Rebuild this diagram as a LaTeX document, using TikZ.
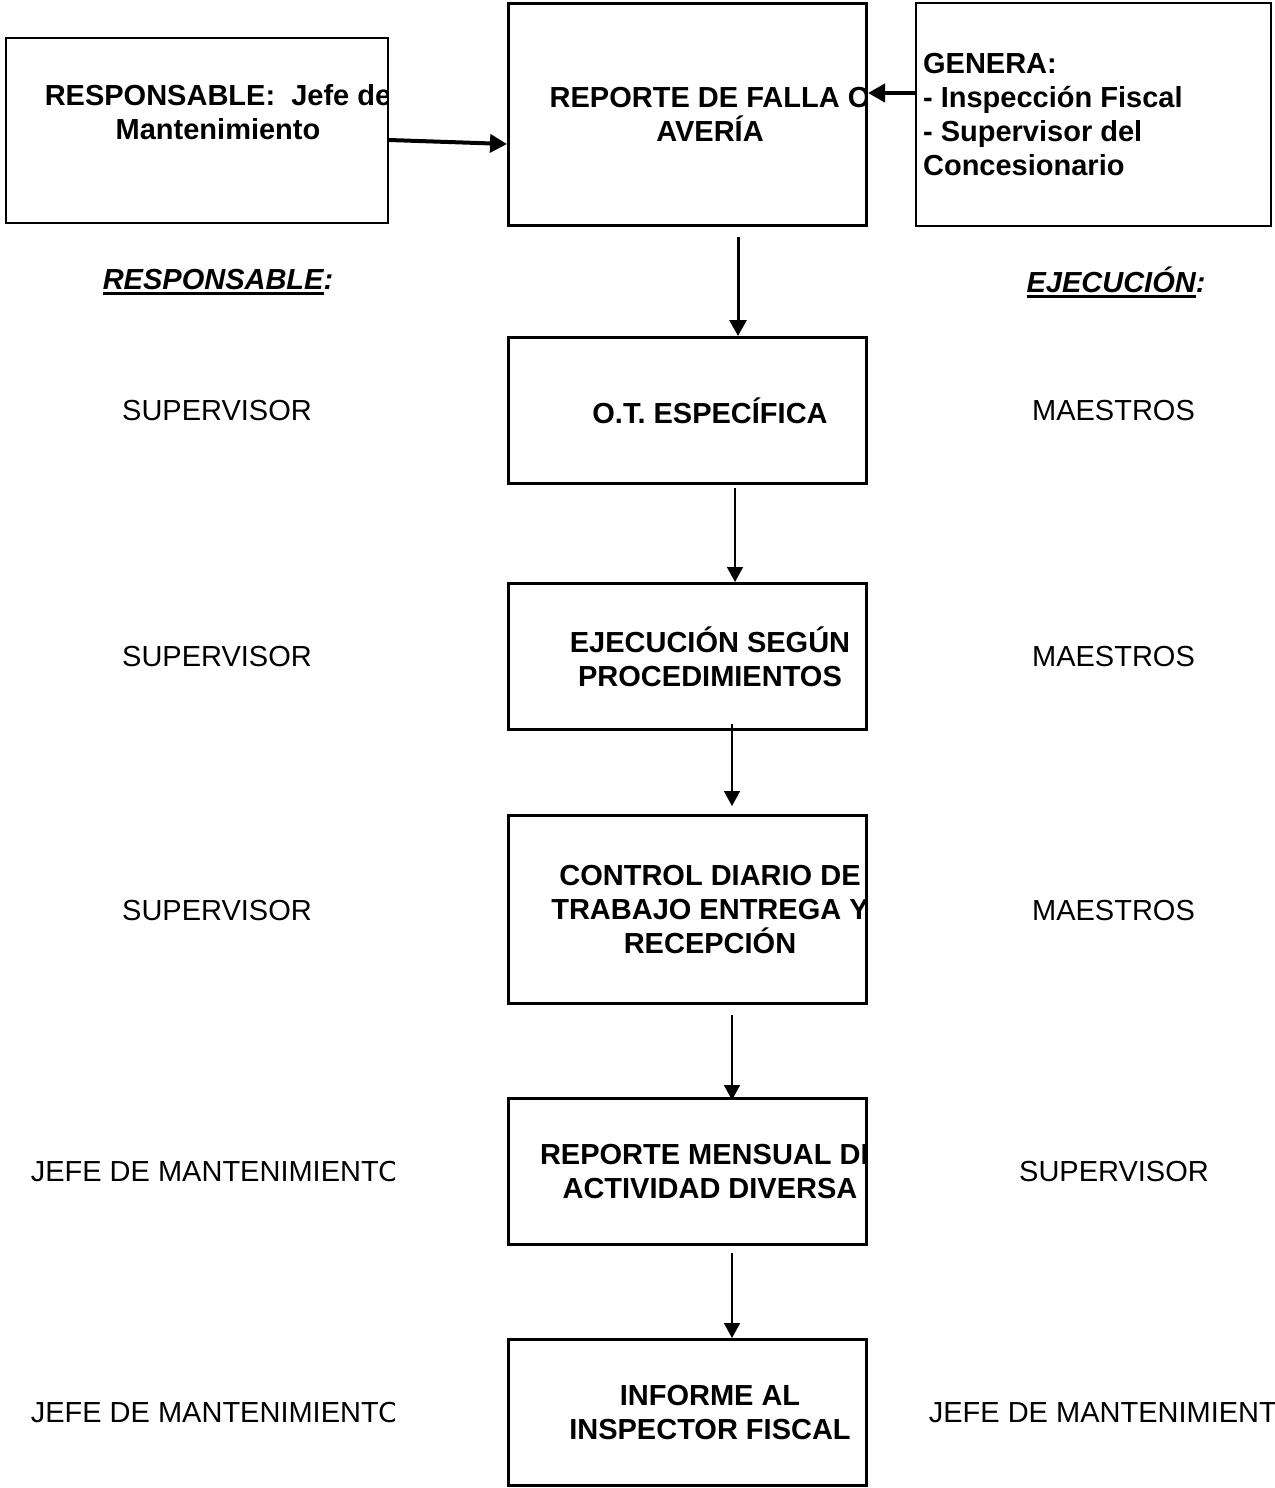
\documentclass[tikz,border=0pt]{standalone}
\usepackage{fontspec}
\setmainfont{Liberation Sans}
\usetikzlibrary{positioning,arrows.meta}

\newcommand{\hdline}[1]{\setbox0\hbox{#1}\rlap{\rule[-2.8pt]{\wd0}{1.5pt}}\box0}

\tikzset{
	plain/.style={font=\fontsize{14.5}{17}\selectfont, inner sep=0pt, anchor=center, minimum width=0pt, minimum height=0pt},
	heavy/.style={font=\fontsize{14.5}{17}\selectfont\bfseries, inner sep=0pt, align=center, anchor=center, minimum width=0pt, minimum height=0pt},
	headline/.style={font=\fontsize{14.5}{17}\selectfont\bfseries\itshape, inner sep=0pt},
	stepbox/.style={draw, line width=1.5pt, minimum width=179pt, inner sep=0pt,
		path picture={\node[heavy] at ([xshift=11.25pt]path picture bounding box.center) {#1};}},
	sidebox/.style={draw, line width=1.1pt, inner sep=0pt},
	cutlabel/.style={inner sep=0pt, minimum height=20pt,
		path picture={\node[plain, anchor=west] at (path picture bounding box.west) {#1};}},
	flow/.style={-{Triangle[length=7.5pt,width=8pt]}, line width=0.8pt},
	midflow/.style={-{Triangle[length=8pt,width=8.5pt]}, line width=1.5pt},
	bigflow/.style={-{Triangle[length=8.5pt,width=9pt]}, line width=2pt}
}

\begin{document}
\begin{tikzpicture}[x=0.5pt,y=-0.5pt]
	\useasboundingbox (0,0) rectangle (1274,1488);
	
	\node [stepbox={REPORTE DE FALLA O\\AVERÍA}, minimum height=111pt] (falla) at (687.5,114.5) {};
	\node [stepbox={O.T. ESPECÍFICA}, minimum height=73pt, below = 54.5pt of falla] (ot) {};
	\node [stepbox={EJECUCIÓN SEGÚN\\PROCEDIMIENTOS}, minimum height=73pt, below = 48.5pt of ot] (ejec) {};
	\node [stepbox={CONTROL DIARIO DE\\TRABAJO ENTREGA Y\\RECEPCIÓN}, minimum height=94pt, below = 41.5pt of ejec] (control) {};
	\node [stepbox={REPORTE MENSUAL DE\\ACTIVIDAD DIVERSA}, minimum height=73pt, below = 46pt of control] (mensual) {};
	\node [stepbox={INFORME AL\\INSPECTOR FISCAL}, minimum height=73pt, below = 46pt of mensual] (informe) {};
	
	\node [sidebox, minimum width=191pt, minimum height=92.5pt,
		path picture={\node[heavy] at ([xshift=10.5pt,yshift=9.25pt]path picture bounding box.center) {RESPONSABLE: \ Jefe de\\Mantenimiento};}] (resp) at (197,130.5) {};
	\node [sidebox, minimum width=177.5pt, minimum height=111.5pt,
		path picture={\node[heavy, align=left, anchor=west] at ([xshift=3pt]path picture bounding box.west) {GENERA:\\- Inspección Fiscal\\- Supervisor del\\Concesionario};}] (genera) at (1093.5,114.5) {};
	
	\node [headline] (hresp) at (218,282) {\hdline{RESPONSABLE}:};
	\node [headline] (hejec) at (1116,282) {\hdline{EJECUCIÓN}:};
	
	\foreach \y/\n in {411/A,657/B,911/C}{
		\node [plain] (sup\n) at (217,\y) {SUPERVISOR};
		\node [plain] (mae\n) at (1113.5,\y) {MAESTROS};
	}
	\node [plain] (supD) at (1114,1172) {SUPERVISOR};
	\node [cutlabel={JEFE DE MANTENIMIENTO}, minimum width=182pt, anchor=west] (jefeA) at (30,1172) {};
	\node [cutlabel={JEFE DE MANTENIMIENTO}, minimum width=182pt, anchor=west] (jefeB) at (30,1412) {};
	\node [cutlabel={JEFE DE MANTENIMIENTO}, minimum width=173pt, anchor=west] (jefeC) at (928,1412) {};
	
	\draw [bigflow] ([yshift=-4.75pt]resp.east) -- ([yshift=-14.75pt]falla.west);
	\draw [bigflow] ([yshift=10.75pt]genera.west) -- ([yshift=10.75pt]falla.east);
	\draw [midflow] ([xshift=25.25pt,yshift=-5pt]falla.south) -- ([xshift=25.25pt]ot.north);
	\draw [flow] ([xshift=23.75pt,yshift=-1.5pt]ot.south) -- ([xshift=23.75pt]ejec.north);
	\draw [flow] ([xshift=22.25pt,yshift=3.5pt]ejec.south) -- ([xshift=22.25pt,yshift=4pt]control.north);
	\draw [flow] ([xshift=22.25pt,yshift=-5pt]control.south) -- ([xshift=22.25pt,yshift=-1.5pt]mensual.north);
	\draw [flow] ([xshift=22.25pt,yshift=-3.5pt]mensual.south) -- ([xshift=22.25pt]informe.north);
\end{tikzpicture}
\end{document}
